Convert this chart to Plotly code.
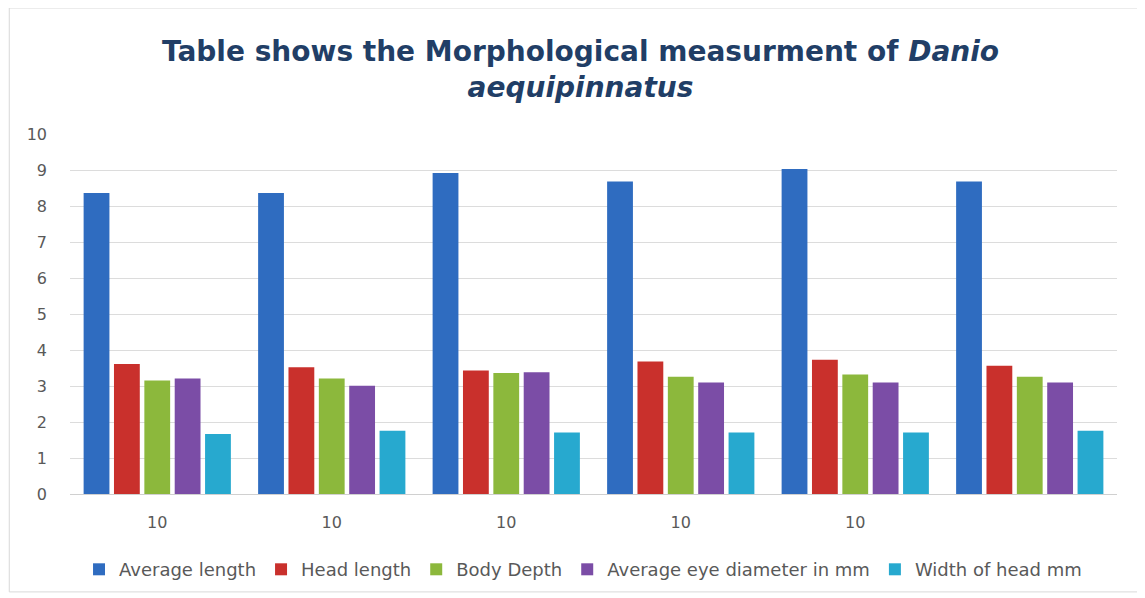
import plotly.graph_objects as go

categories = [0, 1, 2, 3, 4, 5]
tick_labels = ["10", "10", "10", "10", "10", ""]
series_names = ["Average length", "Head length", "Body Depth",
                "Average eye diameter in mm", "Width of head mm"]
average_length = [8.36, 8.36, 8.92, 8.68, 9.03, 8.68]
head_length = [3.61, 3.52, 3.43, 3.68, 3.73, 3.56]
body_depth = [3.15, 3.21, 3.36, 3.26, 3.32, 3.26]
eye_diameter = [3.21, 3.01, 3.38, 3.10, 3.10, 3.10]
head_width = [1.67, 1.76, 1.71, 1.71, 1.71, 1.76]

series_values = [average_length, head_length, body_depth, eye_diameter, head_width]
colors = ["#2F6CC0", "#C9302C", "#8CB83C", "#7B4DA6", "#27A9CF"]

fig = go.Figure()
for name, vals, col in zip(series_names, series_values, colors):
    fig.add_trace(go.Bar(x=categories, y=vals, name=name, marker_color=col,
                         marker_line_width=0))

font_family = "'DejaVu Sans', sans-serif"
fig.update_layout(
    width=1145, height=598,
    paper_bgcolor="white", plot_bgcolor="white",
    margin=dict(l=62, r=36, t=126, b=112),
    barmode="group", bargap=0.13, bargroupgap=0.15,
    title=dict(
        text="<b>Table shows the Morphological measurment of <i>Danio</i><br><i>aequipinnatus</i></b>",
        x=0.5, xanchor="center", y=0.912, yanchor="middle",
        font=dict(family=font_family, size=28, color="#213E66"),
    ),
    font=dict(family=font_family, color="#595959"),
    xaxis=dict(tickvals=categories, ticktext=tick_labels, showgrid=False,
               showline=True, linecolor="#D0D0D0", ticks="",
               ticklabelstandoff=14,
               tickfont=dict(size=16, color="#595959"), range=[-0.5, 5.5]),
    yaxis=dict(range=[0, 10], dtick=1, showgrid=True, gridcolor="#DCDCDC",
               zeroline=False, showline=False, ticks="",
               ticklabelstandoff=22,
               tickfont=dict(size=16, color="#595959")),
    legend=dict(orientation="h", x=0.49, xanchor="center", y=-0.21,
                yanchor="middle", font=dict(size=18, color="#595959"),
                traceorder="normal", itemwidth=30),
    showlegend=True,
    shapes=[dict(type="rect", xref="paper", yref="paper",
                 x0=-0.058, x1=1.022, y0=-0.272, y1=1.35,
                 line=dict(color="#D9D9D9", width=1), layer="below")],
)

fig.write_html("out.html")
